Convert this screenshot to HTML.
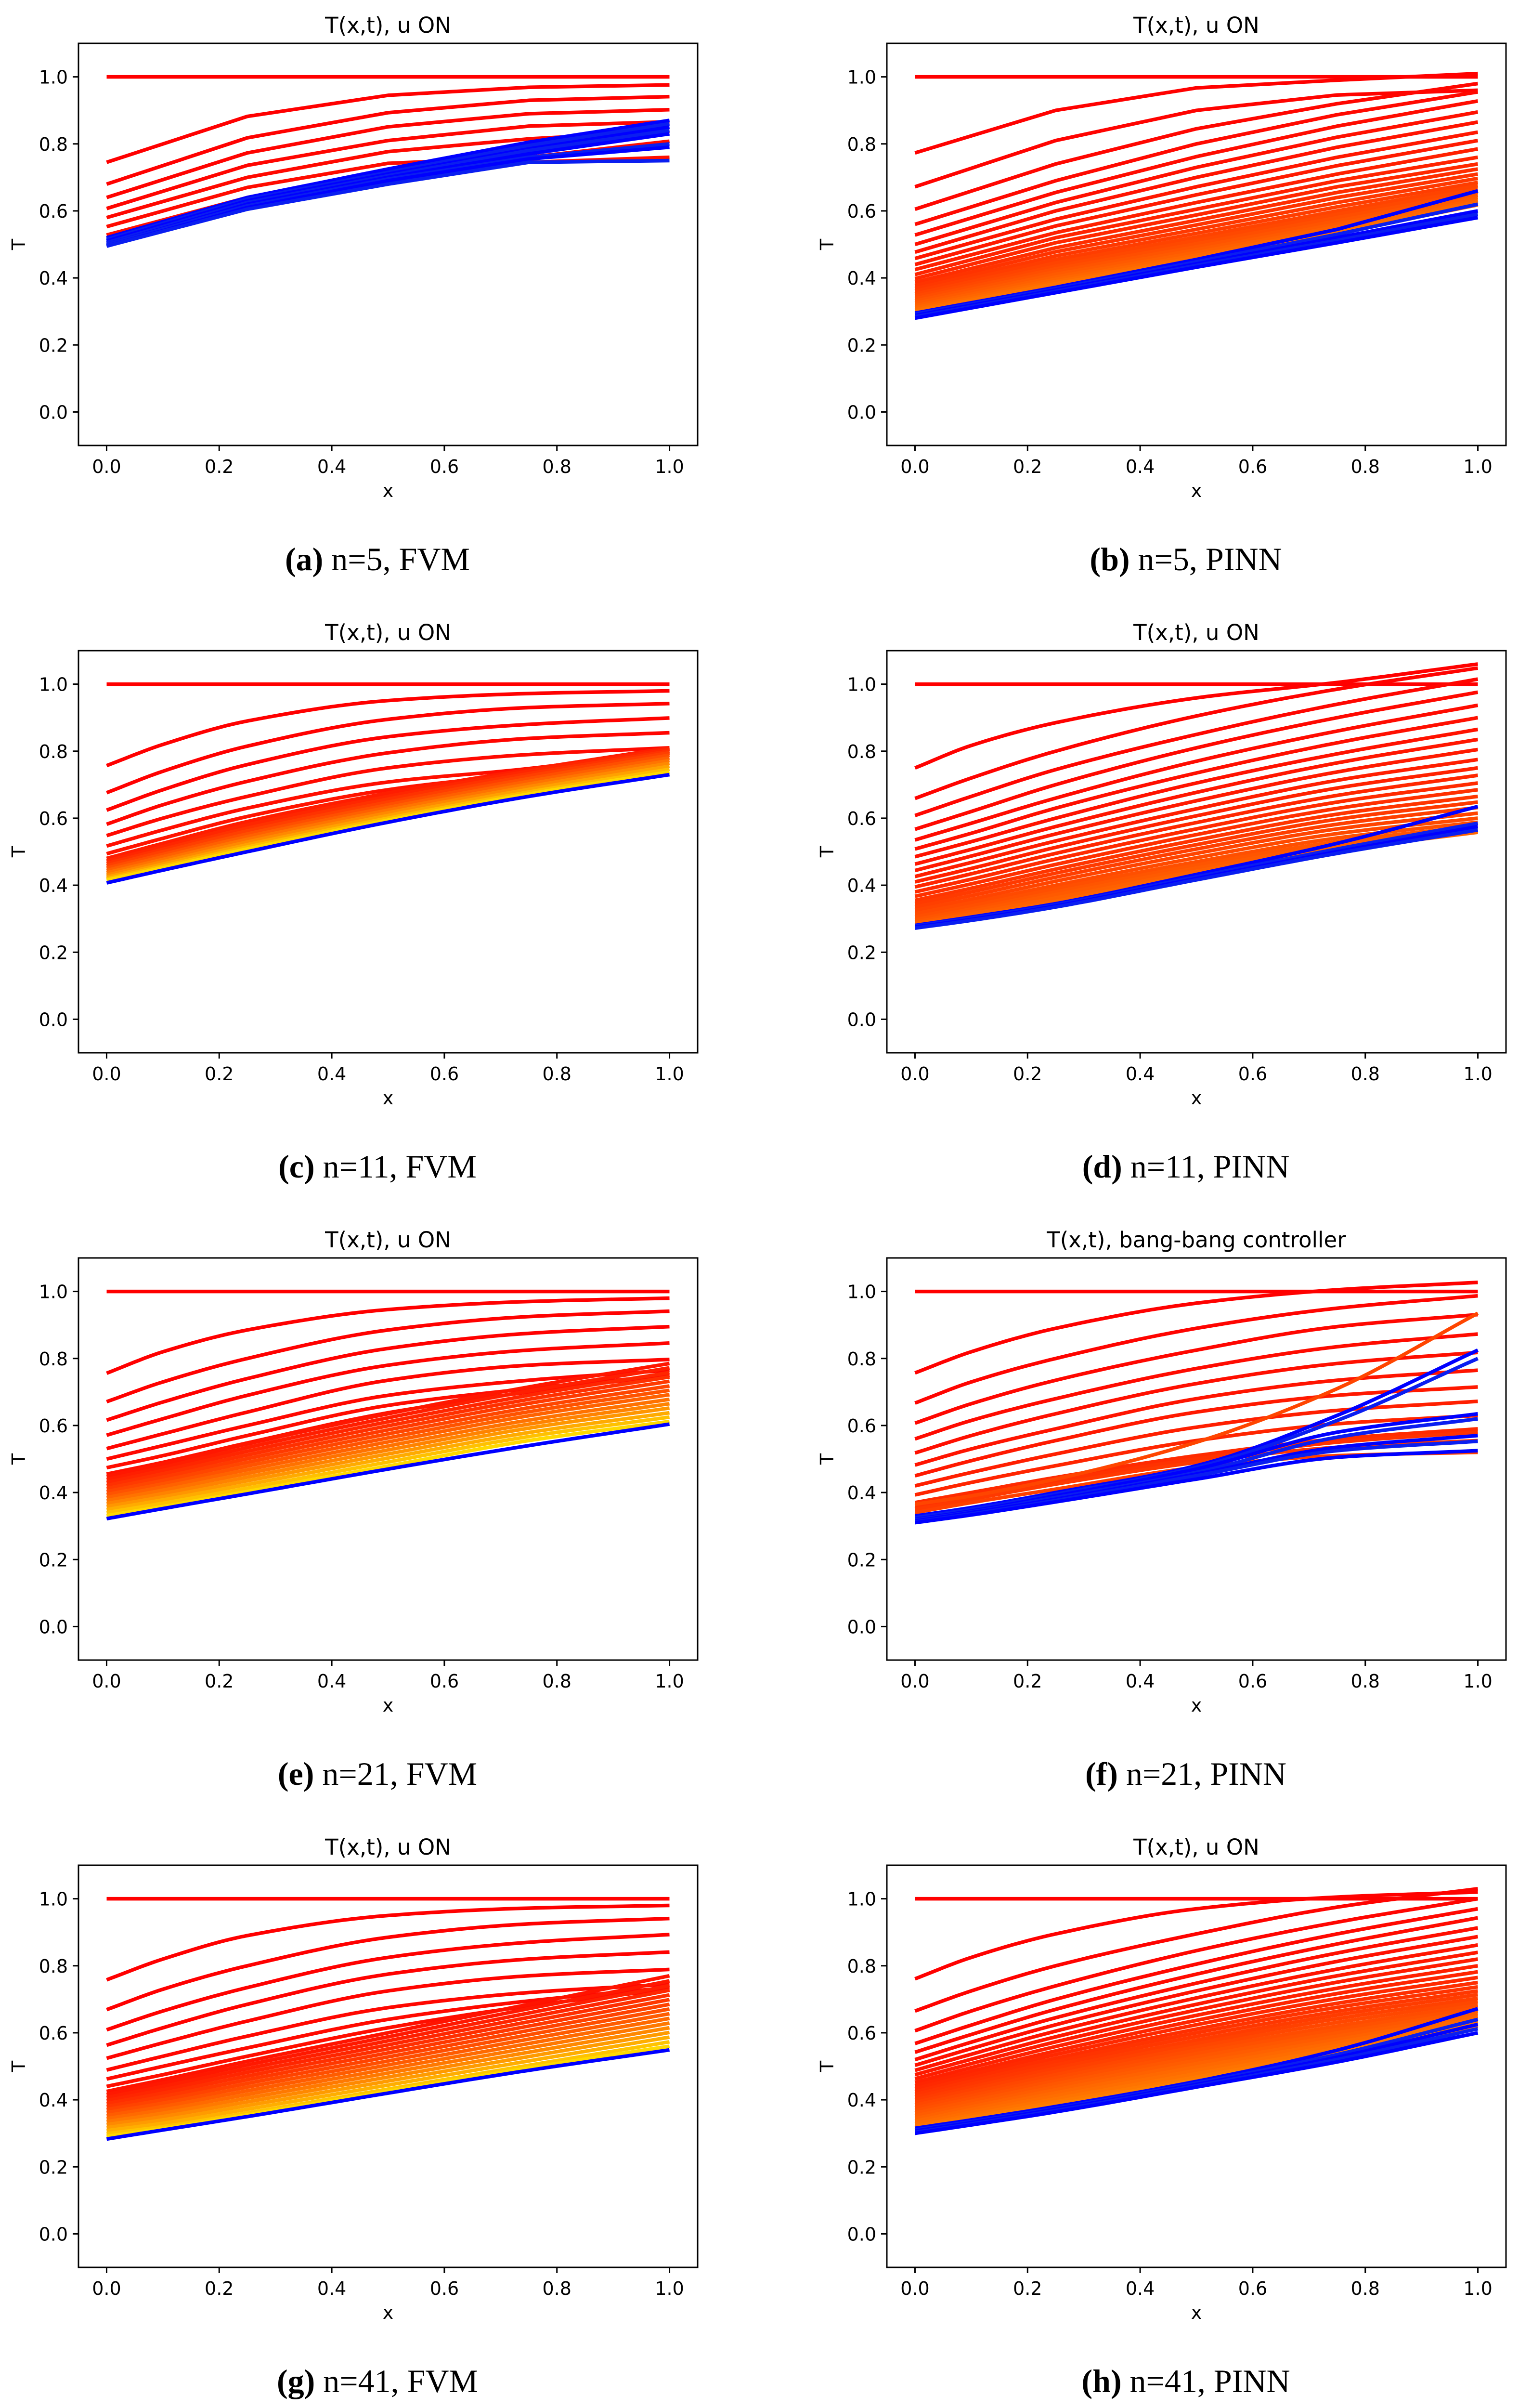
<!DOCTYPE html>
<html><head><meta charset="utf-8"><style>
html,body{margin:0;padding:0;background:#fff;overflow:hidden;width:3155px;height:5007px;}
svg{display:block;}
</style></head><body>
<svg id="fig" xmlns="http://www.w3.org/2000/svg" width="3155" height="5007" viewBox="0 0 3155 5007"></svg>
<script>
const xs5 = [0, 0.25, 0.5, 0.75, 1];
const xs6 = [0, 0.1, 0.25, 0.5, 0.75, 1];
const xTicks = [0, 0.2, 0.4, 0.6, 0.8, 1.0];
const yTicks = [0, 0.2, 0.4, 0.6, 0.8, 1.0];
const xTickLabels = ["0.0","0.2","0.4","0.6","0.8","1.0"];
const yTickLabels = ["0.0","0.2","0.4","0.6","0.8","1.0"];
const titles = ["T(x,t), u ON","T(x,t), u ON","T(x,t), u ON","T(x,t), u ON","T(x,t), u ON","T(x,t), bang-bang controller","T(x,t), u ON","T(x,t), u ON"];
const captionLetters = ["(a)","(b)","(c)","(d)","(e)","(f)","(g)","(h)"];
const captionTexts = [" n=5, FVM"," n=5, PINN"," n=11, FVM"," n=11, PINN"," n=21, FVM"," n=21, PINN"," n=41, FVM"," n=41, PINN"];

const A_red = [[1,1,1,1,1],[.745,.882,.945,.969,.976],[.68,.818,.893,.93,.941],[.64,.773,.851,.89,.902],[.607,.736,.81,.853,.866],[.58,.70,.777,.815,.838],[.553,.67,.742,.76,.808],[.528,.64,.72,.745,.76]];
const A_blue = [[.52,.64,.725,.805,.87],[.515,.635,.715,.795,.86],[.51,.63,.71,.785,.85],[.505,.625,.705,.78,.84],[.50,.62,.70,.77,.83],[.50,.615,.695,.76,.80],[.495,.61,.69,.755,.79],[.495,.605,.68,.745,.75]];

const B_red = [[1,1,1,1,1],[.773,.90,.967,.99,1.01],[.672,.81,.90,.946,.96],[.605,.74,.845,.92,.98],[.56,.69,.80,.887,.955],[.528,.655,.762,.853,.928],[.50,.625,.73,.82,.895],[.477,.60,.70,.79,.865],[.458,.575,.672,.76,.835],[.44,.555,.648,.735,.81],[.425,.535,.625,.71,.785],[.41,.52,.605,.69,.76],[.398,.505,.588,.672,.74],[.387,.49,.572,.655,.725],[.377,.478,.558,.64,.71],[.368,.466,.545,.625,.697],[.36,.455,.533,.612,.685],[.352,.445,.522,.60,.675],[.345,.435,.512,.59,.665],[.338,.427,.502,.58,.655],[.331,.419,.493,.57,.647],[.324,.411,.484,.561,.64],[.317,.403,.476,.553,.633],[.311,.396,.468,.546,.627],[.305,.389,.461,.539,.622],[.30,.383,.455,.533,.618]];
const B_blue = [[.295,.372,.455,.545,.66],[.292,.368,.448,.53,.62],[.288,.364,.442,.52,.60],[.284,.36,.437,.512,.59],[.28,.356,.432,.505,.58]];

const C_red = [[1,1,1,1,1,1],[.757,.82,.89,.951,.972,.98],[.676,.74,.815,.895,.93,.942],[.624,.685,.76,.843,.88,.899],[.582,.64,.71,.795,.838,.855],[.548,.60,.665,.75,.79,.81],[.517,.565,.63,.708,.748,.805],[.494,.54,.605,.685,.735,.795],[.48,.525,.59,.675,.745,.81],[.472,.515,.58,.665,.74,.805],[.465,.507,.57,.657,.733,.80],[.458,.50,.562,.648,.726,.795],[.451,.492,.553,.64,.718,.788],[.444,.485,.545,.632,.71,.78],[.437,.477,.537,.624,.702,.772],[.43,.47,.529,.616,.694,.764],[.424,.463,.521,.608,.686,.755],[.419,.457,.514,.60,.678,.746],[.415,.452,.508,.594,.672,.738]];
const C_blue = [[.407,.445,.50,.588,.665,.73]];

const D_red = [[1,1,1,1,1,1],[.75,.817,.885,.959,1.005,1.06],[.659,.72,.80,.905,.985,1.048],[.608,.665,.745,.85,.94,1.015],[.567,.62,.70,.81,.90,.976],[.535,.585,.66,.77,.86,.937],[.508,.555,.63,.735,.825,.90],[.485,.53,.60,.705,.792,.865],[.463,.507,.575,.677,.765,.835],[.444,.487,.553,.652,.738,.805],[.426,.468,.532,.628,.713,.775],[.41,.45,.513,.607,.69,.75],[.395,.434,.495,.587,.668,.728],[.38,.418,.478,.568,.648,.705],[.367,.404,.462,.551,.629,.685],[.355,.391,.448,.535,.612,.665],[.345,.38,.436,.521,.597,.648],[.335,.369,.424,.508,.582,.632],[.325,.358,.412,.495,.568,.615],[.315,.348,.40,.482,.554,.60],[.305,.338,.39,.47,.541,.588],[.297,.329,.38,.46,.53,.577],[.29,.322,.372,.451,.52,.568],[.285,.315,.362,.442,.512,.562],[.28,.308,.352,.435,.505,.558]];
const D_blue = [[.28,.305,.345,.432,.525,.635],[.278,.302,.342,.425,.508,.585],[.275,.298,.338,.42,.50,.575],[.272,.295,.335,.416,.495,.565]];

const E_red = [[1,1,1,1,1,1],[.756,.82,.885,.946,.97,.98],[.671,.73,.80,.885,.925,.941],[.616,.67,.74,.83,.875,.895],[.571,.62,.69,.78,.825,.846],[.531,.575,.64,.735,.78,.797],[.50,.54,.60,.69,.735,.765],[.474,.51,.57,.66,.71,.75],[.455,.49,.548,.638,.70,.75],[.448,.485,.545,.635,.715,.785],[.439,.475,.534,.623,.703,.772],[.43,.466,.523,.611,.69,.758],[.421,.456,.512,.599,.678,.745],[.412,.446,.501,.587,.666,.732],[.403,.436,.49,.575,.653,.718],[.394,.426,.479,.563,.641,.705],[.385,.417,.468,.551,.629,.692],[.376,.407,.457,.539,.616,.678],[.367,.397,.446,.527,.604,.665],[.358,.387,.435,.515,.592,.652],[.349,.378,.424,.503,.579,.638],[.34,.368,.413,.491,.567,.625],[.331,.358,.403,.479,.555,.612]];
const E_blue = [[.322,.352,.396,.47,.54,.604]];

const F_red = [[1,1,1,1,1,1],[.757,.82,.89,.965,1.005,1.027],[.667,.73,.80,.89,.95,.987],[.607,.665,.735,.825,.895,.931],[.56,.615,.68,.77,.835,.873],[.518,.57,.635,.725,.785,.818],[.482,.53,.59,.68,.735,.765],[.45,.495,.555,.64,.69,.715],[.42,.46,.515,.595,.645,.672],[.393,.43,.48,.555,.605,.63],[.37,.40,.445,.51,.56,.59],[.36,.39,.435,.50,.55,.58],[.35,.38,.425,.49,.535,.555],[.34,.37,.41,.475,.51,.52],[.365,.39,.44,.55,.71,.935]];
const F_blue = [[.33,.355,.40,.48,.63,.825],[.325,.35,.395,.475,.615,.80],[.32,.345,.39,.47,.58,.635],[.318,.342,.385,.46,.565,.62],[.315,.34,.38,.455,.535,.57],[.312,.336,.376,.45,.525,.553],[.31,.333,.372,.44,.505,.525]];

const G_red = [[1,1,1,1,1,1],[.758,.82,.89,.95,.972,.98],[.669,.73,.80,.885,.925,.941],[.609,.665,.735,.825,.87,.893],[.563,.615,.685,.775,.82,.841],[.524,.57,.635,.725,.77,.789],[.489,.53,.59,.675,.72,.745],[.462,.50,.555,.64,.695,.735],[.44,.475,.53,.615,.68,.73],[.425,.46,.515,.60,.685,.77],[.416,.45,.504,.588,.672,.755],[.407,.44,.493,.576,.659,.741],[.398,.43,.482,.564,.646,.727],[.389,.42,.471,.552,.633,.713],[.38,.41,.46,.54,.62,.699],[.371,.40,.449,.528,.607,.685],[.362,.39,.438,.516,.594,.671],[.353,.38,.427,.504,.581,.657],[.344,.37,.416,.492,.568,.643],[.335,.36,.405,.48,.555,.629],[.326,.35,.394,.468,.542,.615],[.317,.34,.383,.456,.529,.601],[.308,.33,.372,.444,.516,.587],[.299,.32,.361,.432,.503,.573],[.291,.314,.355,.425,.495,.56]];
const G_blue = [[.283,.31,.35,.42,.488,.549]];

const H_red = [[1,1,1,1,1,1],[.761,.825,.895,.97,1.005,1.02],[.665,.725,.80,.895,.975,1.03],[.606,.665,.74,.845,.93,1.0],[.568,.623,.70,.805,.895,.97],[.542,.595,.67,.775,.865,.943],[.52,.572,.645,.748,.838,.913],[.503,.553,.624,.725,.813,.887],[.488,.536,.605,.704,.79,.862],[.475,.521,.588,.685,.77,.84],[.463,.508,.573,.668,.751,.82],[.452,.496,.559,.652,.733,.80],[.442,.485,.546,.637,.717,.782],[.433,.475,.535,.624,.702,.765],[.424,.465,.524,.611,.688,.75],[.416,.456,.514,.60,.676,.737],[.408,.447,.504,.589,.664,.725],[.40,.438,.494,.578,.653,.714],[.392,.43,.485,.568,.642,.703],[.384,.421,.475,.558,.631,.693],[.376,.412,.466,.548,.62,.683],[.368,.404,.457,.538,.61,.674],[.36,.396,.448,.528,.60,.665],[.352,.387,.439,.518,.59,.657],[.344,.379,.43,.508,.58,.649],[.336,.371,.421,.498,.571,.642],[.328,.363,.412,.488,.562,.636],[.32,.355,.403,.478,.553,.63],[.315,.348,.394,.468,.545,.625],[.31,.342,.386,.46,.538,.62]];
const H_blue = [[.315,.34,.38,.455,.548,.672],[.31,.335,.375,.45,.535,.64],[.307,.332,.372,.446,.527,.625],[.303,.328,.368,.442,.52,.612],[.30,.325,.364,.438,.513,.60]];

const NS = "http://www.w3.org/2000/svg";
const svg = document.getElementById('fig');
function mk(tag, attrs, parent){ const e=document.createElementNS(NS,tag); for(const k in attrs) e.setAttribute(k,attrs[k]); (parent||svg).appendChild(e); return e; }

const panels = [
  {xs:xs5, red:A_red, blue:A_blue, smooth:false, gmax:0.06, gp:2},
  {xs:xs5, red:B_red, blue:B_blue, smooth:false, gmax:0.45, gp:1.4},
  {xs:xs6, red:C_red, blue:C_blue, smooth:true, gmax:0.85, gp:2.5},
  {xs:xs6, red:D_red, blue:D_blue, smooth:true, gmax:0.4, gp:1.4},
  {xs:xs6, red:E_red, blue:E_blue, smooth:true, gmax:0.85, gp:2.5},
  {xs:xs6, red:F_red, blue:F_blue, smooth:true, gmax:0.28, gp:1.5},
  {xs:xs6, red:G_red, blue:G_blue, smooth:true, gmax:0.85, gp:2.5},
  {xs:xs6, red:H_red, blue:H_blue, smooth:true, gmax:0.5, gp:1.4}
];

const AX_L=163, AX_T=90, AX_W=1286, AX_H=835, COL_DX=1679, ROW_DY=1261;
const FONT='"DejaVu Sans","Liberation Sans",sans-serif';

function pathFor(xs, ys, sx, sy, smooth){
  if(!smooth){ return xs.map((x,i)=>(i?'L':'M')+sx(x).toFixed(1)+' '+sy(ys[i]).toFixed(1)).join(' '); }
  const n=xs.length, m=[];
  for(let i=0;i<n;i++){
    if(i===0) m.push((ys[1]-ys[0])/(xs[1]-xs[0]));
    else if(i===n-1) m.push((ys[n-1]-ys[n-2])/(xs[n-1]-xs[n-2]));
    else { const d0=(ys[i]-ys[i-1])/(xs[i]-xs[i-1]), d1=(ys[i+1]-ys[i])/(xs[i+1]-xs[i]); m.push(d0*d1<=0?0:2/(1/d0+1/d1)); }
  }
  let d='M'+sx(xs[0]).toFixed(1)+' '+sy(ys[0]).toFixed(1);
  for(let i=0;i<n-1;i++){
    const h=xs[i+1]-xs[i];
    for(let k=1;k<=12;k++){
      const t=k/12, h00=2*t*t*t-3*t*t+1, h10=t*t*t-2*t*t+t, h01=-2*t*t*t+3*t*t, h11=t*t*t-t*t;
      const y=h00*ys[i]+h10*h*m[i]+h01*ys[i+1]+h11*h*m[i+1];
      d+=' L'+sx(xs[i]+t*h).toFixed(1)+' '+sy(y).toFixed(1);
    }
  }
  return d;
}

panels.forEach((p, idx)=>{
  const col=idx%2, row=Math.floor(idx/2);
  const ox=col*COL_DX, oy=row*ROW_DY;
  const g=mk('g',{transform:`translate(${ox},${oy})`});
  
  
  const sx=x=>AX_L+(x+0.05)/1.1*AX_W;
  const sy=v=>AX_T+(1.1-v)/1.2*AX_H;

  const clipId='clip'+idx;
  const cp=mk('clipPath',{id:clipId},g);
  mk('rect',{x:AX_L,y:AX_T,width:AX_W,height:AX_H},cp);
  const lines=mk('g',{'clip-path':`url(#${clipId})`},g);
  
  

  const N=p.red.length;
  p.red.forEach((ys,i)=>{
    let gv=p.gmax*Math.pow(i/Math.max(1,N-1),p.gp);
    if(idx===5 && i===N-1) gv=0.27;
    const col='rgb(255,'+Math.round(255*gv)+',0)';
    const e=mk('path',{d:pathFor(p.xs,ys,sx,sy,p.smooth),fill:'none',stroke:col,'stroke-width':7.5,'stroke-linejoin':'round'},lines);
    
    
  });
  p.blue.forEach((ys,i)=>{
    const col=i%2?'#0a1ef0':'#0000ff';
    const e=mk('path',{d:pathFor(p.xs,ys,sx,sy,p.smooth),fill:'none',stroke:col,'stroke-width':7.5,'stroke-linejoin':'round'},lines);
    
    
  });

  const frame=mk('rect',{x:AX_L,y:AX_T,width:AX_W,height:AX_H,fill:'none',stroke:'#000','stroke-width':3},g);
  
  

  xTicks.forEach((t,i)=>{
    const X=sx(t);
    const tk=mk('line',{x1:X,x2:X,y1:AX_T+AX_H,y2:AX_T+AX_H+12,stroke:'#000','stroke-width':3},g);
    
    
    const tl=mk('text',{x:X,y:AX_T+AX_H+57,'text-anchor':'middle','font-family':FONT,'font-size':38,fill:'#000'},g);
    tl.textContent=xTickLabels[i];
    
    
  });
  yTicks.forEach((t,i)=>{
    const Y=sy(t);
    const tk=mk('line',{x1:AX_L-12,x2:AX_L,y1:Y,y2:Y,stroke:'#000','stroke-width':3},g);
    
    
    const tl=mk('text',{x:AX_L-22,y:Y+14,'text-anchor':'end','font-family':FONT,'font-size':38,fill:'#000'},g);
    tl.textContent=yTickLabels[i];
    
    
  });

  const ti=mk('text',{x:AX_L+AX_W/2,y:68,'text-anchor':'middle','font-family':FONT,'font-size':45,fill:'#000'},g);
  ti.textContent=titles[idx];
  
  

  const xl=mk('text',{x:AX_L+AX_W/2,y:1032,'text-anchor':'middle','font-family':FONT,'font-size':38,fill:'#000'},g);
  xl.textContent='x';
  
  

  const yl=mk('text',{x:0,y:0,'text-anchor':'middle','font-family':FONT,'font-size':38,fill:'#000',transform:`translate(52,${AX_T+AX_H/2}) rotate(-90)`},g);
  yl.textContent='T';
  
  

  const cap=mk('text',{x:784,y:1184,'text-anchor':'middle','font-family':'"Liberation Serif",serif','font-size':68,fill:'#000'},g);
  
  
  const b=mk('tspan',{'font-weight':'bold'},cap);
  b.textContent=captionLetters[idx];
  const r=mk('tspan',{},cap);
  r.textContent=captionTexts[idx];
});
</script>
</body></html>
